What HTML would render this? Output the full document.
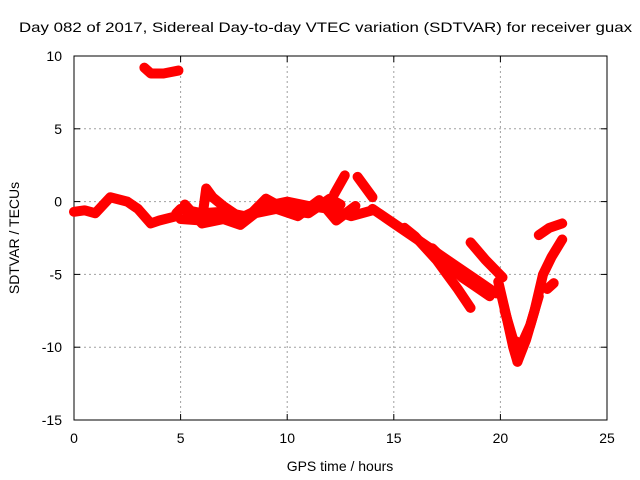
<!DOCTYPE html>
<html><head><meta charset="utf-8"><style>
body{margin:0;background:#fff}
svg{display:block;font-family:"Liberation Sans",sans-serif}
</style></head><body>
<svg id="c" width="640" height="480">
<rect x="0" y="0" width="640" height="480" fill="#fff"/>
<g id="grid"></g>
<rect x="74" y="56" width="533" height="364" fill="none" stroke="#000" stroke-width="1"/>
<g id="ticks"></g>
<g id="data"></g>
<text x="19" y="32" font-size="14" textLength="613" lengthAdjust="spacingAndGlyphs">Day 082 of 2017, Sidereal Day-to-day VTEC variation (SDTVAR) for receiver guax</text>
<text x="340" y="471" text-anchor="middle" font-size="14">GPS time / hours</text>
<text transform="translate(19,238) rotate(-90)" text-anchor="middle" font-size="14">SDTVAR / TECUs</text>
</svg>
<script>
const xTicks=[0,5,10,15,20,25];
const yTicks=[10,5,0,-5,-10,-15];
const trackATimes=[0,0.5,1,1.7,2.5,3,3.6,4,4.8];
const trackAValues=[-0.7,-0.6,-0.8,0.3,0,-0.5,-1.5,-1.3,-1.0];
const trackBTimes=[3.3,3.6,4.2,4.9];
const trackBValues=[9.2,8.8,8.8,9.0];
const trackCTimes=[4.8,5,6,7,8,9,10,11,12,13,14];
const trackCValues=[-0.8,-0.5,-0.8,-0.7,-1,-0.3,0,-0.3,-0.5,-1.0,-0.6];
const trackDTimes=[5,6,6.2,6.5,7,8,9,10,11,12,12.5];
const trackDValues=[-1.2,-1.3,0.9,0.3,-0.3,-1.3,0.2,-0.6,-0.8,0.2,-0.2];
const trackD2Times=[5.2,6,7,7.8,8.5,9.5,10.5,11.5,12.3,13.2];
const trackD2Values=[-0.2,-1.5,-1.2,-1.6,-0.8,-0.5,-1.0,0.1,-1.3,-0.3];
const trackETimes=[12.2,12.7];
const trackEValues=[0.5,1.8];
const trackFTimes=[13.3,14];
const trackFValues=[1.7,0.3];
const trackGTimes=[14,15,16,17,18,19,19.8];
const trackGValues=[-0.5,-1.5,-2.5,-3.5,-4.5,-5.5,-6.3];
const trackHTimes=[15.5,16,17,17.5,18,18.6];
const trackHValues=[-1.8,-2.4,-4,-5,-6,-7.3];
const trackITimes=[16.8,17.5,18.2,18.8,19.5];
const trackIValues=[-3.2,-4.2,-5.2,-5.8,-6.5];
const trackJTimes=[18.6,19.3,20.1];
const trackJValues=[-2.8,-4,-5.2];
const trackKTimes=[19.9,20.3,20.6,20.8];
const trackKValues=[-5.5,-8,-10,-11];
const trackK2Times=[20.2,20.6,21.0,21.4,21.8];
const trackK2Values=[-7.5,-9.5,-9.8,-8.5,-6.5];
const trackLTimes=[20.8,21.2,21.6,22,22.4,22.9];
const trackLValues=[-11,-9.5,-7.5,-5,-3.8,-2.6];
const trackMTimes=[21.8,22.3,22.9];
const trackMValues=[-2.3,-1.8,-1.5];
const trackNTimes=[22.2,22.5];
const trackNValues=[-6,-5.6];
const tracks=[[trackATimes,trackAValues],[trackBTimes,trackBValues],[trackCTimes,trackCValues],[trackDTimes,trackDValues],[trackD2Times,trackD2Values],[trackETimes,trackEValues],[trackFTimes,trackFValues],[trackGTimes,trackGValues],[trackHTimes,trackHValues],[trackITimes,trackIValues],[trackJTimes,trackJValues],[trackKTimes,trackKValues],[trackK2Times,trackK2Values],[trackLTimes,trackLValues],[trackMTimes,trackMValues],[trackNTimes,trackNValues]];
const NS="http://www.w3.org/2000/svg";
const X=t=>74+t*533/25;
const Y=v=>56+(10-v)*364/25;
function mk(tag,attrs,parent){const e=document.createElementNS(NS,tag);for(const k in attrs)e.setAttribute(k,attrs[k]);parent.appendChild(e);return e;}
const grid=document.getElementById('grid'),ticks=document.getElementById('ticks'),data=document.getElementById('data');
xTicks.forEach(t=>{
  if(t>0&&t<25){const g=mk('line',{x1:X(t),x2:X(t),y1:56,y2:420,stroke:'#a0a0a0','stroke-dasharray':'2,3'},grid);
  
  }
  mk('line',{x1:X(t),x2:X(t),y1:420,y2:414,stroke:'#000'},ticks);
  mk('line',{x1:X(t),x2:X(t),y1:56,y2:62,stroke:'#000'},ticks);
  const l=mk('text',{x:X(t),y:443,'text-anchor':'middle','font-size':14},ticks);l.textContent=t;
  
  
});
yTicks.forEach(v=>{
  if(v<10&&v>-15){const g=mk('line',{x1:74,x2:607,y1:Y(v),y2:Y(v),stroke:'#a0a0a0','stroke-dasharray':'2,3'},grid);
  
  }
  mk('line',{x1:74,x2:80,y1:Y(v),y2:Y(v),stroke:'#000'},ticks);
  mk('line',{x1:601,x2:607,y1:Y(v),y2:Y(v),stroke:'#000'},ticks);
  const l=mk('text',{x:62,y:Y(v)+5,'text-anchor':'end','font-size':14},ticks);l.textContent=v;
  
  
});
tracks.forEach(([ts,vs])=>{
  const pts=ts.map((t,i)=>X(t)+','+Y(vs[i])).join(' ');
  const p=mk('polyline',{points:pts,fill:'none',stroke:'#ff0000','stroke-width':10,'stroke-linejoin':'round','stroke-linecap':'round'},data);
  
  
  ts.forEach((t,i)=>{
    const x=X(t),y=Y(vs[i]);
    const m=mk('path',{d:`M${x-4},${y}h8M${x},${y-4}v8`,stroke:'#ff0000','stroke-width':1.5},data);
    
    
  });
});
</script>
</body></html>
